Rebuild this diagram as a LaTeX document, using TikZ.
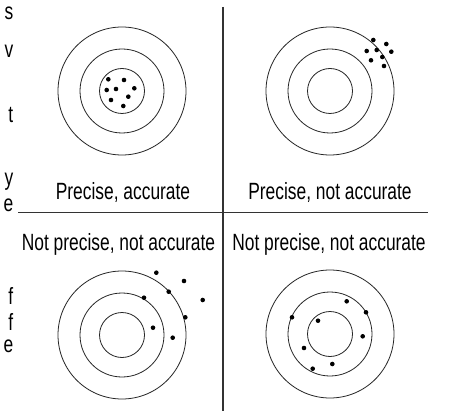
\documentclass[tikz,border=0pt]{standalone}
\usepackage{fontspec}
\setmainfont[FakeStretch=0.74]{Liberation Sans}
\begin{document}
\begin{tikzpicture}[x=1pt,y=-1pt,
  ring/.style={draw=black!85,line width=0.8pt},
  shot/.style={fill=black},
  lbl/.style={anchor=base,inner sep=0pt,font=\fontsize{23.5}{26}\selectfont,text=black},
  frag/.style={anchor=base east,inner sep=0pt,font=\fontsize{23.5}{26}\selectfont,text=black},
  rule/.style={draw=black!80,line width=1.1pt}]
\clip (0,0) rectangle (454,411);
\fill[white] (0,0) rectangle (454,411);
% cropped page text on the left
\node[frag] (f1) at (13.5,20) {s};
\node[frag] (f2) at (13.5,58) {v};
\node[frag] (f3) at (13.5,123) {t};
\node[frag] (f4) at (13.5,186) {y};
\node[frag] (f5) at (13.5,212) {e};
\node[frag] (f6) at (13.5,304) {f};
\node[frag] (f7) at (13.5,330) {f};
\node[frag] (f8) at (13.5,352) {e};
% dividing lines
\coordinate (vt) at (223,7);
\coordinate (vb) at (223,411);
\coordinate (hl) at (18,212);
\coordinate (hr) at (428,212);
\draw[rule] (vt) -- (vb);
\draw[rule,line width=0.9pt] (hl) -- (hr);
% targets
\foreach \n/\cx/\cy in {tl/122/91, tr/330/91, bl/122/335, br/330/334}{
  \coordinate (\n) at (\cx,\cy);
  \draw[ring] (\n) circle (64);
  \draw[ring] (\n) circle (42);
  \draw[ring] (\n) circle (22.5);
}
% labels
\node[lbl] (l1) at (123,200) {Precise, accurate};
\node[lbl] (l2) at (330,200) {Precise, not accurate};
\node[lbl] (l3) at (118.5,251) {Not precise, not accurate};
\node[lbl] (l4) at (329,251) {Not precise, not accurate};
% shots
\foreach \x/\y in {108.3/79.3, 124/80, 106.7/90, 116/89, 134.3/88.3, 128.3/96.7, 111/100, 123.3/106}
  \fill[shot] (\x,\y) circle (2.3);
\foreach \x/\y in {373.3/40, 386.3/44, 366.7/51, 376.7/50, 391.3/51.7, 371/60.3, 382.3/57, 384/66}
  \fill[shot] (\x,\y) circle (2.3);
\foreach \x/\y in {156.3/272.7, 184/281, 168.7/291.7, 144/297.7, 202.7/300, 185.3/317.3, 153/327.7, 172.7/337.7}
  \fill[shot] (\x,\y) circle (2.3);
\foreach \x/\y in {346.7/301.3, 366/312.3, 292/317.3, 318/320.7, 362.7/336.3, 304/348, 332.3/364, 312.7/368.7}
  \fill[shot] (\x,\y) circle (2.3);
\end{tikzpicture}
\end{document}
